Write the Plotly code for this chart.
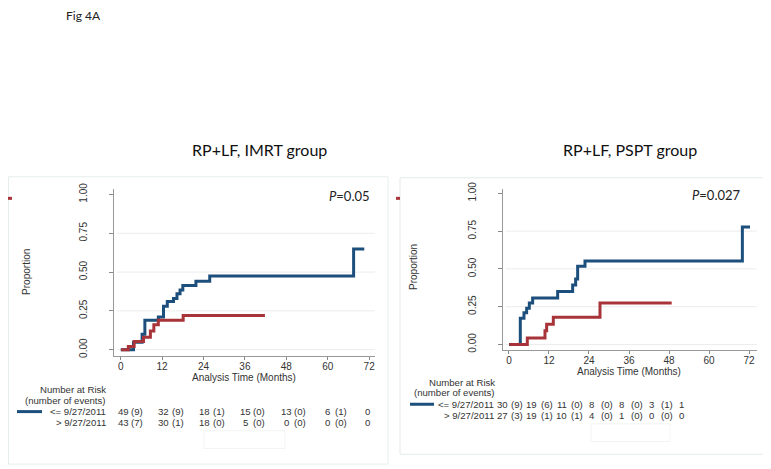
import plotly.graph_objects as go

# the page body has an 8px margin, so the figure is drawn 8px in from the top-left corner
OFF = 8
W, H = 771 - OFF, 469 - OFF

# Kaplan-Meier failure curves (months, proportion)
blue_l_t = [0, 3.7, 6.2, 7.0, 10.9, 12.4, 13.5, 15.3, 16.3, 17.2, 18.0, 21.8, 25.8, 67.5, 70.6]
blue_l_p = [0, 0.048, 0.10, 0.19, 0.21, 0.28, 0.31, 0.33, 0.36, 0.385, 0.413, 0.44, 0.474, 0.648, 0.648]
red_l_t = [0.1, 2.2, 3.9, 6.6, 8.6, 9.6, 10.9, 18.1, 41.8]
red_l_p = [0, 0.02, 0.052, 0.08, 0.12, 0.16, 0.19, 0.22, 0.22]

blue_r_t = [0, 3.4, 4.5, 5.3, 6.1, 7.1, 14.6, 19.1, 20.0, 20.6, 22.8, 70.0, 72.3]
blue_r_p = [0, 0.173, 0.21, 0.24, 0.275, 0.307, 0.35, 0.394, 0.433, 0.517, 0.552, 0.777, 0.777]
red_r_t = [0.1, 5.5, 10.8, 11.3, 13.3, 27.3, 48.8]
red_r_p = [0, 0.043, 0.09, 0.134, 0.18, 0.275, 0.275]

# number at risk tables
left_risk_early = [49, 32, 18, 15, 13, 6, 0]
left_events_early = [9, 9, 1, 0, 0, 1]
left_risk_late = [43, 30, 18, 5, 0, 0, 0]
left_events_late = [7, 1, 0, 0, 0, 0]
right_risk_early = [30, 19, 11, 8, 8, 3, 1]
right_events_early = [9, 6, 0, 0, 0, 1]
right_risk_late = [27, 19, 10, 4, 1, 0, 0]
right_events_late = [3, 1, 1, 0, 0, 0]

x_ticks = [0, 12, 24, 36, 48, 60, 72]
y_ticks = [0, 0.25, 0.5, 0.75, 1.0]
y_ticklabels = ["0.00", "0.25", "0.50", "0.75", "1.00"]
group_labels = ["<= 9/27/2011", "> 9/27/2011"]

BLUE = "#1d4f7c"
RED = "#a8343a"
TXT = "#333333"
SANS = "Liberation Sans, Arial, sans-serif"
CAL = "Lato, Open Sans, sans-serif"


def px(x):
    return (x - OFF) / W


def py(y):
    return 1 - (y - OFF) / H


fig = go.Figure()
fig.add_trace(go.Scatter(x=blue_l_t, y=blue_l_p, mode="lines", line=dict(color=BLUE, width=3, shape="hv"),
                         xaxis="x", yaxis="y", hoverinfo="skip"))
fig.add_trace(go.Scatter(x=red_l_t, y=red_l_p, mode="lines", line=dict(color=RED, width=3, shape="hv"),
                         xaxis="x", yaxis="y", hoverinfo="skip"))
fig.add_trace(go.Scatter(x=blue_r_t, y=blue_r_p, mode="lines", line=dict(color=BLUE, width=3, shape="hv"),
                         xaxis="x2", yaxis="y2", hoverinfo="skip"))
fig.add_trace(go.Scatter(x=red_r_t, y=red_r_p, mode="lines", line=dict(color=RED, width=3, shape="hv"),
                         xaxis="x2", yaxis="y2", hoverinfo="skip"))

xax = dict(tickvals=x_ticks, ticks="outside", ticklen=3, tickcolor="#888", showline=True, linecolor="#999",
           linewidth=1, showgrid=False, zeroline=False, ticklabelstandoff=-2,
           tickfont=dict(family=SANS, size=10, color=TXT))
yax = dict(tickvals=y_ticks, ticktext=y_ticklabels, ticks="outside", ticklen=4, tickcolor="#888", showline=True,
           linecolor="#999", linewidth=1, showgrid=False, zeroline=False, tickangle=-90, ticklabelstandoff=18,
           tickfont=dict(family=SANS, size=10, color=TXT))

fig.update_layout(
    width=W, height=H, margin=dict(l=0, r=0, t=0, b=0), showlegend=False,
    paper_bgcolor="white", plot_bgcolor="white",
    xaxis=dict(xax, domain=[px(114.3), px(375)], range=[-1.86, 73.7], anchor="y"),
    yaxis=dict(yax, domain=[py(356), py(185)], range=[-0.042, 1.038], anchor="x"),
    xaxis2=dict(xax, domain=[px(503.3), px(756.7)], range=[-1.7, 74.3], anchor="y2"),
    yaxis2=dict(yax, domain=[py(350), py(185)], range=[-0.039, 1.032], anchor="x2"),
)

shapes = []
# light horizontal grid lines (no line at 1.00)
for xr, yr in [("x domain", "y"), ("x2 domain", "y2")]:
    for v in y_ticks[:-1]:
        shapes.append(dict(type="line", xref=xr, yref=yr, x0=0.01, x1=1, y0=v, y1=v,
                           line=dict(color="#ececec", width=1), layer="below"))
# faint panel boxes
shapes.append(dict(type="rect", xref="paper", yref="paper", x0=px(8.5), x1=px(388), y0=py(466), y1=py(173),
                   line=dict(color="#e6eeec", width=1)))
shapes.append(dict(type="rect", xref="paper", yref="paper", x0=px(400), x1=px(767), y0=py(456), y1=py(174),
                   line=dict(color="#e2ecea", width=1)))
shapes.append(dict(type="rect", xref="paper", yref="paper", x0=px(204), x1=px(285), y0=py(450), y1=py(432),
                   line=dict(color="#f2f4f4", width=1)))
shapes.append(dict(type="rect", xref="paper", yref="paper", x0=px(591), x1=px(670), y0=py(443), y1=py(425),
                   line=dict(color="#f2f4f4", width=1)))
# stray red legend stubs
for x0 in [8, 396]:
    shapes.append(dict(type="line", xref="paper", yref="paper", x0=px(x0), x1=px(x0 + 4), y0=py(195), y1=py(195),
                       line=dict(color=RED, width=3)))
# legend line samples in risk tables
shapes.append(dict(type="line", xref="paper", yref="paper", x0=px(17), x1=px(42), y0=py(412.5), y1=py(412.5),
                   line=dict(color=BLUE, width=3)))
shapes.append(dict(type="line", xref="paper", yref="paper", x0=px(410), x1=px(434), y0=py(405), y1=py(405),
                   line=dict(color=BLUE, width=3)))

ann = []


def txt(x, y, s, size=10, family=SANS, xanchor="center", angle=0, color=TXT):
    ann.append(dict(x=px(x), y=py(y), xref="paper", yref="paper", text=s, showarrow=False, xanchor=xanchor,
                    yanchor="middle", textangle=angle, borderpad=0,
                    font=dict(family=family, size=size, color=color)))


txt(65, 9, "Fig 4A", size=12, family=CAL, xanchor="left", color="#222")
txt(259, 145, "RP+LF, IMRT group", size=16, family=CAL, color="#111")
txt(630, 145, "RP+LF, PSPT group", size=16, family=CAL, color="#111")
txt(371, 193, "<i>P</i>=0.05", size=13, family=CAL, xanchor="right", color="#222")
txt(742, 192, "<i>P</i>=0.027", size=13, family=CAL, xanchor="right", color="#222")
txt(27, 270, "Proportion", angle=-90)
txt(414, 265, "Proportion", angle=-90)
txt(244, 378, "Analysis Time (Months)")
txt(629, 372, "Analysis Time (Months)")

TS = 9.6
# risk table, left panel (columns follow the axis ticks)
txt(107, 390, "Number at Risk", size=TS, xanchor="right")
txt(107, 401.5, "(number of events)", size=TS, xanchor="right")
for row_y, lab, risk, ev in [(412.5, group_labels[0], left_risk_early, left_events_early),
                             (424, group_labels[1], left_risk_late, left_events_late)]:
    txt(107, row_y, lab, size=TS, xanchor="right")
    for i, n in enumerate(risk):
        txt(123 + i * 40.8, row_y, str(n), size=TS)
    for i, e in enumerate(ev):
        txt(137 + i * 40.8, row_y, "(%d)" % e, size=TS)

# risk table, right panel (compressed in the source image)
txt(496, 382.5, "Number at Risk", size=TS, xanchor="right")
txt(496, 393.5, "(number of events)", size=TS, xanchor="right")
for row_y, lab, risk, ev in [(405, group_labels[0], right_risk_early, right_events_early),
                             (416.5, group_labels[1], right_risk_late, right_events_late)]:
    txt(495, row_y, lab, size=TS, xanchor="right")
    for i, n in enumerate(risk):
        txt(502 + i * 29.85, row_y, str(n), size=TS)
    for i, e in enumerate(ev):
        txt(517.3 + i * 29.85, row_y, "(%d)" % e, size=TS)

fig.update_layout(shapes=shapes, annotations=ann)
fig.write_html("out.html")
